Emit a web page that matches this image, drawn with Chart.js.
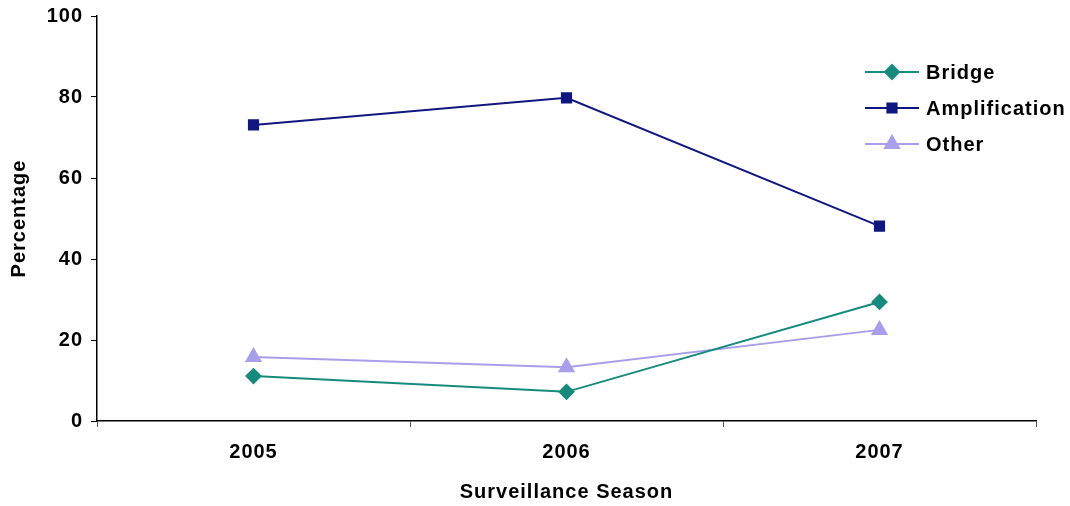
<html>
<head>
<script src="https://cdn.jsdelivr.net/npm/chart.js@4.4.0/dist/chart.umd.min.js"></script>
<style>
  body { margin: 0; background: #fff; }
  #wrap { width: 1070px; height: 506px; position: relative; }
</style>
</head>
<body>
<div id="wrap"><canvas id="myChart"></canvas></div>
<script>
// data
var seasons = ["2005", "2006", "2007"];
var bridge = [11.1, 7.2, 29.4];
var amplification = [73.1, 79.8, 48.1];
var other = [15.8, 13.3, 22.5];
var seriesNames = ["Bridge", "Amplification", "Other"];

var FONT = "'Liberation Sans', Arial, sans-serif";

// the original text is a bit wider than plain Arial, so space the letters a little
var spacing = {
  id: 'spacing',
  beforeUpdate: function (chart) { chart.ctx.letterSpacing = '1px'; },
  beforeDraw: function (chart) { chart.ctx.letterSpacing = '1px'; }
};

// legend drawn like the old office style: short line with the marker on it
var lineLegend = {
  id: 'lineLegend',
  afterDraw: function (chart) {
    var ctx = chart.ctx;
    var x0 = 865, y0 = 72, gap = 36;
    chart.data.datasets.forEach(function (ds, i) {
      var y = y0 + i * gap;
      ctx.save();
      ctx.strokeStyle = ds.borderColor;
      ctx.lineWidth = 2;
      ctx.beginPath();
      ctx.moveTo(x0, y);
      ctx.lineTo(x0 + 54, y);
      ctx.stroke();
      Chart.helpers.drawPoint(ctx, {
        pointStyle: ds.pointStyle,
        radius: ds.pointRadius,
        borderWidth: 1
      }, x0 + 27, y);
      ctx.fillStyle = ds.pointBackgroundColor;
      ctx.fill();
      ctx.fillStyle = '#000';
      ctx.font = 'bold 20px ' + FONT;
      ctx.textBaseline = 'middle';
      ctx.fillText(ds.label, x0 + 61, y + 1);
      ctx.restore();
    });
  }
};

var canvas = document.getElementById("myChart");
var chart = new Chart(canvas, {
  type: 'line',
  data: {
    labels: seasons,
    datasets: [
      {
        label: seriesNames[0], data: bridge,
        borderColor: '#178A7E', backgroundColor: '#178A7E',
        pointBackgroundColor: '#178A7E', pointBorderColor: '#178A7E',
        pointStyle: 'rectRot', pointRadius: 7, borderWidth: 2
      },
      {
        label: seriesNames[1], data: amplification,
        borderColor: '#10177E', backgroundColor: '#10177E',
        pointBackgroundColor: '#10177E', pointBorderColor: '#10177E',
        pointStyle: 'rect', pointRadius: 6.5, borderWidth: 2
      },
      {
        label: seriesNames[2], data: other,
        borderColor: '#A99EEA', backgroundColor: '#A99EEA',
        pointBackgroundColor: '#A99EEA', pointBorderColor: '#A99EEA',
        pointStyle: 'triangle', pointRadius: 8, borderWidth: 2
      }
    ]
  },
  options: {
    responsive: true,
    maintainAspectRatio: false,
    animation: false,
    layout: { padding: { top: 16, right: 34, left: 0, bottom: 0 } },
    plugins: {
      legend: { display: false },
      tooltip: { enabled: false }
    },
    scales: {
      x: {
        offset: true,
        grid: { offset: true, drawOnChartArea: false, tickLength: 6, color: '#000', tickColor: '#555' },
        border: { color: '#000', width: 1.5 },
        ticks: { color: '#000', font: { family: FONT, size: 20, weight: 'bold' }, padding: 13 },
        title: { display: true, text: 'Surveillance Season', color: '#000',
                 font: { family: FONT, size: 20, weight: 'bold' }, padding: { top: 0, bottom: 2 } },
        afterFit: function (s) { s.height = 85; }
      },
      y: {
        min: 0, max: 100,
        ticks: { stepSize: 20, color: '#000', font: { family: FONT, size: 20, weight: 'bold' }, padding: 8 },
        grid: { drawOnChartArea: false, tickLength: 6, color: '#000' },
        border: { color: '#000', width: 1.5 },
        title: { display: true, text: 'Percentage', color: '#000',
                 font: { family: FONT, size: 20, weight: 'bold' }, padding: { top: 7, bottom: 0 } },
        afterFit: function (s) { s.width = 97; s.paddingTop = 0; s.paddingBottom = 0; }
      }
    }
  },
  plugins: [spacing, lineLegend]
});
</script>
</body>
</html>
